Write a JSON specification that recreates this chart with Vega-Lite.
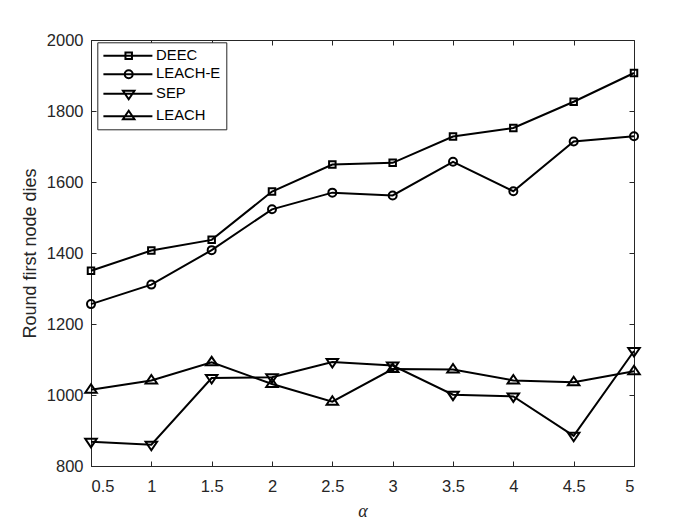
{
  "$schema": "https://vega.github.io/schema/vega-lite/v6.json",
  "width": 543,
  "height": 426,
  "autosize": {"type": "none"},
  "padding": {"left": 91, "top": 40, "right": 66, "bottom": 59},
  "background": "white",
  "config": {
    "view": {"stroke": "#262626", "strokeWidth": 1},
    "axis": {"grid": false, "domainColor": "#262626", "tickColor": "#262626", "labelColor": "#262626", "labelFont": "Liberation Sans", "labelFontSize": 16.5, "titleColor": "#262626", "tickWidth": 1, "domainWidth": 1}
  },
  "data": {"values": [
    {"alpha": 0.5, "series": "DEEC", "value": 1350},
    {"alpha": 1, "series": "DEEC", "value": 1407},
    {"alpha": 1.5, "series": "DEEC", "value": 1437},
    {"alpha": 2, "series": "DEEC", "value": 1573},
    {"alpha": 2.5, "series": "DEEC", "value": 1649},
    {"alpha": 3, "series": "DEEC", "value": 1654},
    {"alpha": 3.5, "series": "DEEC", "value": 1728},
    {"alpha": 4, "series": "DEEC", "value": 1752},
    {"alpha": 4.5, "series": "DEEC", "value": 1826},
    {"alpha": 5, "series": "DEEC", "value": 1907},
    {"alpha": 0.5, "series": "LEACH-E", "value": 1256},
    {"alpha": 1, "series": "LEACH-E", "value": 1311},
    {"alpha": 1.5, "series": "LEACH-E", "value": 1408},
    {"alpha": 2, "series": "LEACH-E", "value": 1523},
    {"alpha": 2.5, "series": "LEACH-E", "value": 1570},
    {"alpha": 3, "series": "LEACH-E", "value": 1562},
    {"alpha": 3.5, "series": "LEACH-E", "value": 1657},
    {"alpha": 4, "series": "LEACH-E", "value": 1574},
    {"alpha": 4.5, "series": "LEACH-E", "value": 1714},
    {"alpha": 5, "series": "LEACH-E", "value": 1729},
    {"alpha": 0.5, "series": "SEP", "value": 868},
    {"alpha": 1, "series": "SEP", "value": 860},
    {"alpha": 1.5, "series": "SEP", "value": 1048},
    {"alpha": 2, "series": "SEP", "value": 1050},
    {"alpha": 2.5, "series": "SEP", "value": 1093},
    {"alpha": 3, "series": "SEP", "value": 1083},
    {"alpha": 3.5, "series": "SEP", "value": 1001},
    {"alpha": 4, "series": "SEP", "value": 996},
    {"alpha": 4.5, "series": "SEP", "value": 885},
    {"alpha": 5, "series": "SEP", "value": 1124},
    {"alpha": 0.5, "series": "LEACH", "value": 1015},
    {"alpha": 1, "series": "LEACH", "value": 1041},
    {"alpha": 1.5, "series": "LEACH", "value": 1092},
    {"alpha": 2, "series": "LEACH", "value": 1031},
    {"alpha": 2.5, "series": "LEACH", "value": 981},
    {"alpha": 3, "series": "LEACH", "value": 1073},
    {"alpha": 3.5, "series": "LEACH", "value": 1072},
    {"alpha": 4, "series": "LEACH", "value": 1041},
    {"alpha": 4.5, "series": "LEACH", "value": 1036},
    {"alpha": 5, "series": "LEACH", "value": 1067}
  ]},
  "layer": [
    {
      "mark": {"type": "line", "color": "black", "strokeWidth": 2},
      "encoding": {
        "x": {"field": "alpha", "type": "quantitative", "scale": {"domain": [0.5, 5], "nice": false, "zero": false},
          "axis": {"orient": "bottom", "values": [0.5, 1, 1.5, 2, 2.5, 3, 3.5, 4, 4.5, 5], "format": "~g", "tickSize": -5, "labelPadding": 17, "title": "α", "titleFont": "Liberation Serif", "titleFontStyle": "italic", "titleFontWeight": "normal", "titleFontSize": 18, "titlePadding": 8}},
        "y": {"field": "value", "type": "quantitative", "scale": {"domain": [800, 2000], "nice": false, "zero": false},
          "axis": {"orient": "left", "values": [800, 1000, 1200, 1400, 1600, 1800, 2000], "format": "d", "tickSize": -5, "labelPadding": 13, "title": "Round first node dies", "titleFont": "Liberation Sans", "titleFontWeight": "normal", "titleFontSize": 18, "titlePadding": 7}},
        "detail": {"field": "series"}
      }
    },
    {
      "mark": {"type": "point", "filled": false, "color": "black", "strokeWidth": 2, "size": 100, "opacity": 1},
      "encoding": {
        "x": {"field": "alpha", "type": "quantitative",
          "axis": {"orient": "top", "values": [0.5, 1, 1.5, 2, 2.5, 3, 3.5, 4, 4.5, 5], "labels": false, "domain": false, "tickSize": -5, "title": null}},
        "y": {"field": "value", "type": "quantitative",
          "axis": {"orient": "right", "values": [800, 1000, 1200, 1400, 1600, 1800, 2000], "labels": false, "domain": false, "tickSize": -5, "title": null}},
        "shape": {"field": "series", "type": "nominal",
          "scale": {"domain": ["DEEC", "LEACH-E", "SEP", "LEACH"],
            "range": ["M-0.65,-0.65H0.65V0.65H-0.65Z", "M-0.8,0A0.8,0.8 0 1,0 0.8,0A0.8,0.8 0 1,0 -0.8,0Z", "M-1.15,-0.6H1.15L0,1.1Z", "M-1.15,0.6H1.15L0,-1.1Z"]},
          "legend": null}
      }
    },
    {
      "transform": [{"filter": "datum.value < 0"}],
      "mark": {"type": "point", "filled": false, "color": "black", "strokeWidth": 2, "size": 100, "opacity": 1},
      "encoding": {
        "x": {"field": "alpha", "type": "quantitative", "axis": null},
        "y": {"field": "value", "type": "quantitative", "axis": null},
        "shape": {"field": "series", "type": "nominal",
          "scale": {"domain": ["DEEC", "LEACH-E", "SEP", "LEACH"],
            "range": ["M-1.46,0H8.34M2.95,-0.65H4.25V0.65H2.95Z", "M-1.46,0H8.34M2.8,0A0.8,0.8 0 1,0 4.4,0A0.8,0.8 0 1,0 2.8,0Z", "M-1.46,0H8.34M2.45,-0.6H4.75L3.6,1.1Z", "M-1.46,0H8.34M2.45,0.6H4.75L3.6,-1.1Z"]},
          "legend": {"orient": "none", "legendX": 6.3, "legendY": 2.3, "title": null, "padding": 6, "rowPadding": 2.5,
            "strokeColor": "#262626", "fillColor": "white", "labelFont": "Liberation Sans", "labelFontSize": 14.8, "labelColor": "black", "labelOffset": 38,
            "symbolSize": 100, "symbolStrokeWidth": 2, "symbolStrokeColor": "black", "symbolFillColor": "transparent"}}
      }
    }
  ],
  "resolve": {"axis": {"x": "independent", "y": "independent"}, "scale": {"shape": "independent"}}
}
